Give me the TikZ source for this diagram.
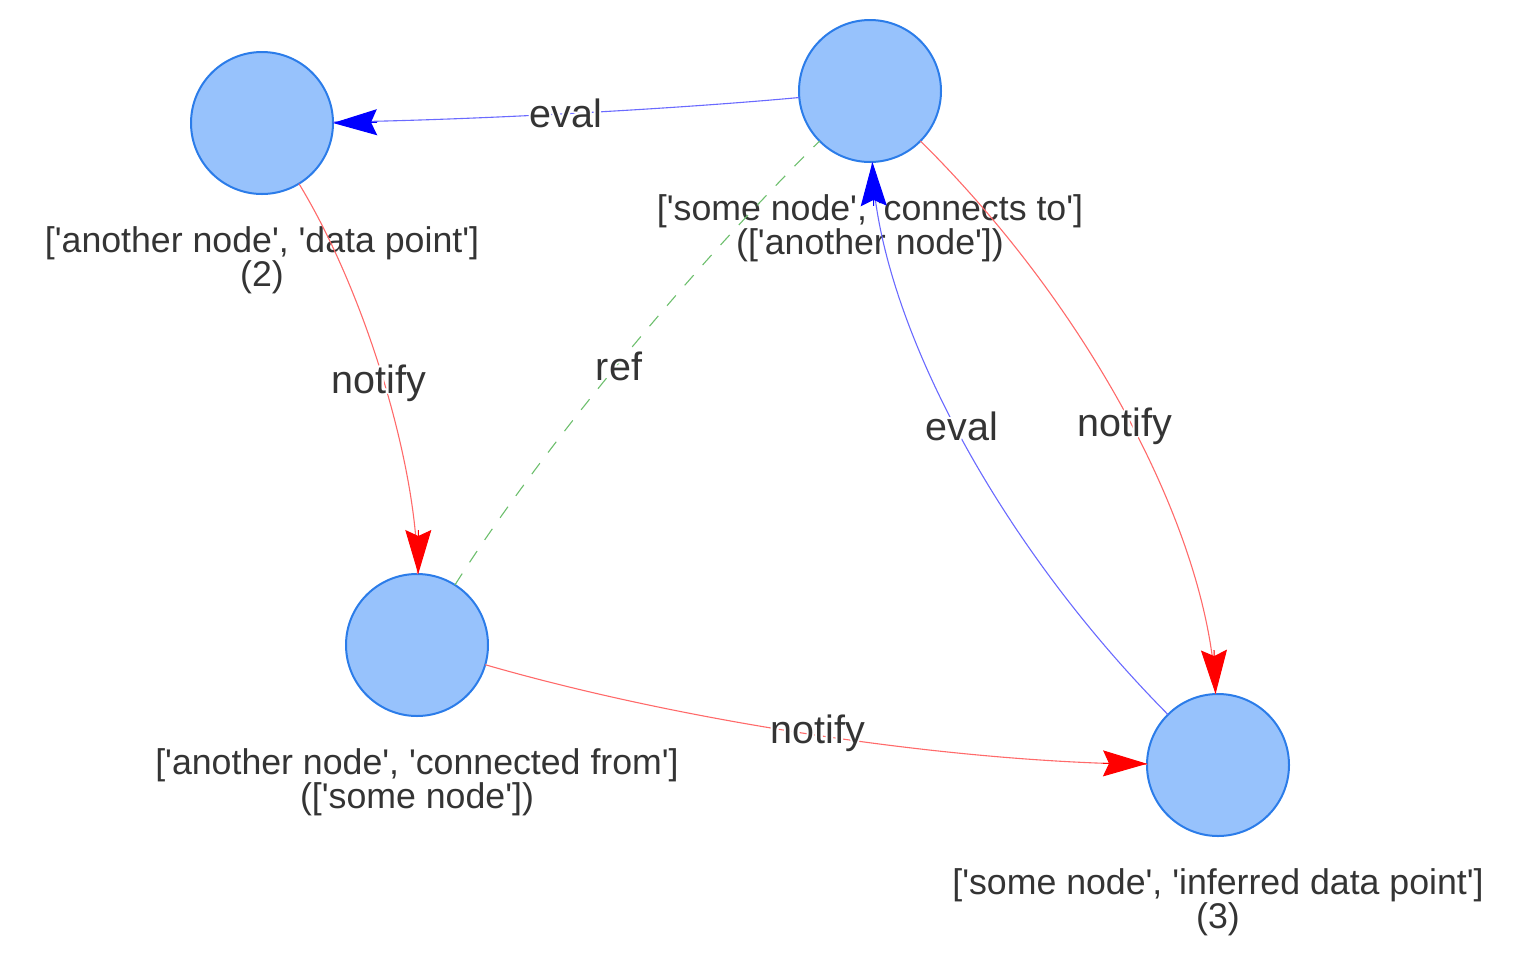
\documentclass[tikz,border=0pt]{standalone}
\usepackage{fontspec}
\setmainfont{Liberation Sans}
\usetikzlibrary{arrows.meta,calc}
\definecolor{nodefill}{HTML}{97C2FC}
\definecolor{nodeline}{HTML}{2B7CE9}
\definecolor{txt}{HTML}{343434}
\definecolor{redline}{HTML}{FF6A6A}
\definecolor{blueline}{HTML}{6A6AFF}
\definecolor{greenline}{HTML}{6DBF6D}
\newcommand\sq{\textquotesingle}
\newcommand\halotxt[1]{%
  \makebox[0pt][l]{\color{white}\kern-2pt#1}%
  \makebox[0pt][l]{\color{white}\kern2pt#1}%
  \makebox[0pt][l]{\color{white}\raisebox{2pt}{#1}}%
  \makebox[0pt][l]{\color{white}\raisebox{-2pt}{#1}}%
  \makebox[0pt][l]{\color{white}\kern-1.4pt\raisebox{1.4pt}{#1}}%
  \makebox[0pt][l]{\color{white}\kern1.4pt\raisebox{1.4pt}{#1}}%
  \makebox[0pt][l]{\color{white}\kern-1.4pt\raisebox{-1.4pt}{#1}}%
  \makebox[0pt][l]{\color{white}\kern1.4pt\raisebox{-1.4pt}{#1}}%
  #1}
\begin{document}
\begin{tikzpicture}[x=1pt,y=-1pt,
  vnode/.style={circle, draw=nodeline, fill=nodefill, line width=2pt, minimum size=142pt, inner sep=0pt, outer sep=0pt},
  nlabel/.style={text=txt, font=\fontsize{35.7}{34.5}\selectfont, align=center, inner sep=0pt, anchor=north},
  elabel/.style={text=txt, font=\fontsize{39.5}{40}\selectfont, inner sep=0pt},
  rededge/.style={draw=redline, line width=1.1pt},
  blueedge/.style={draw=blueline, line width=1.1pt},
  refedge/.style={draw=greenline, line width=1.1pt, dash pattern=on 13.5pt off 13.5pt},
  redtip/.style={draw=red, fill=red, line width=1pt, -{Stealth[length=44pt,width=26pt,inset=6pt]}},
  bluetip/.style={draw=blue, fill=blue, line width=1pt, -{Stealth[length=44pt,width=26pt,inset=6pt]}},
]
\useasboundingbox (0,0) rectangle (1532,954);

% nodes
\node[vnode] (A) at (262,123) {};
\node[vnode] (B) at (870,91) {};
\node[vnode] (C) at (417,645) {};
\node[vnode] (D) at (1218,765) {};

% node labels
\node[nlabel] (Alab) at ([yshift=-32pt]A.south) {[\sq another node\sq, \sq data point\sq]\\(2)};
\node[nlabel] (Blab) at ([yshift=-32pt]B.south) {[\sq some node\sq, \sq connects to\sq]\\([\sq another node\sq])};
\node[nlabel] (Clab) at ([yshift=-32pt]C.south) {[\sq another node\sq, \sq connected from\sq]\\([\sq some node\sq])};
\node[nlabel] (Dlab) at ([yshift=-32pt]D.south) {[\sq some node\sq, \sq inferred data point\sq]\\(3)};

% quadratic control points of the curved edges
\coordinate (qBA) at (566,119);
\coordinate (qAC) at (418.5,380);
\coordinate (qCB) at (594.5,364);
\coordinate (qDB) at (880,424);
\coordinate (qBD) at (1206,424);
\coordinate (qCD) at (818.5,761);

% edges
\draw[blueedge] (B) .. controls ($(B)!2/3!(qBA)$) and ($(A)!2/3!(qBA)$) .. (A);
\draw[rededge] (A) .. controls ($(A)!2/3!(qAC)$) and ($(C)!2/3!(qAC)$) .. (C);
\draw[refedge] (C) .. controls ($(C)!2/3!(qCB)$) and ($(B)!2/3!(qCB)$) .. (B);
\draw[blueedge] (D) .. controls ($(D)!2/3!(qDB)$) and ($(B)!2/3!(qDB)$) .. (B);
\draw[rededge] (B) .. controls ($(B)!2/3!(qBD)$) and ($(D)!2/3!(qBD)$) .. (D);
\draw[rededge] (C) .. controls ($(C)!2/3!(qCD)$) and ($(D)!2/3!(qCD)$) .. (D);

% arrowheads
\draw[bluetip] ($(A.0.75)!44pt!(qBA)$) -- (A.0.75);
\draw[redtip] ($(C.89.7)!44pt!(qAC)$) -- (C.89.7);
\draw[bluetip] ($(B.-88.3)!44pt!(qDB)$) -- (B.-88.3);
\draw[redtip] ($(D.92)!44pt!(qBD)$) -- (D.92);
\draw[redtip] ($(D.179.4)!44pt!(qCD)$) -- (D.179.4);

% edge labels
\node[elabel] (eBA) at (566,113) {\halotxt{eval}};
\node[elabel] (eAC) at (379,383) {\halotxt{notify}};
\node[elabel] (eCB) at (619,366) {\halotxt{ref}};
\node[elabel] (eDB) at (962,426) {\halotxt{eval}};
\node[elabel] (eBD) at (1125,426) {\halotxt{notify}};
\node[elabel] (eCD) at (818,733) {\halotxt{notify}};
\end{tikzpicture}
\end{document}
